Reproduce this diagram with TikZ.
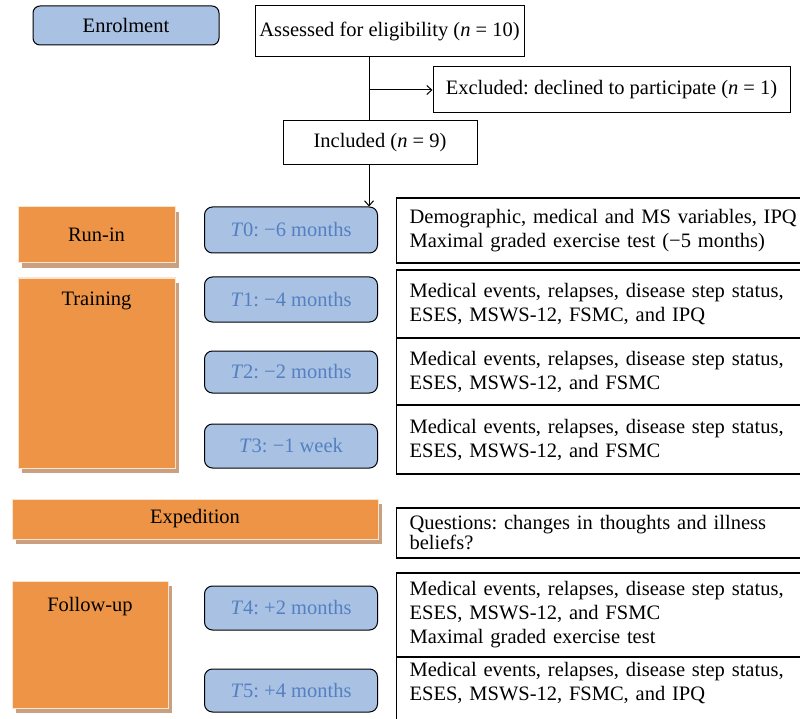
\documentclass[tikz,border=0pt]{standalone}
\usepackage{fontspec}
\setmainfont{Liberation Serif}
\usepackage{xcolor}
\usetikzlibrary{arrows.meta,calc,positioning,shadows}
\definecolor{tblue}{RGB}{169,194,228}
\definecolor{ttext}{RGB}{84,127,192}
\definecolor{phaseorange}{RGB}{237,148,71}
\definecolor{phaseedge}{RGB}{250,228,208}
\definecolor{phaseshade}{RGB}{201,161,128}
\frenchspacing

\begin{document}
\begin{tikzpicture}[x=1pt,y=-1pt,font=\fontsize{20.5}{24}\selectfont,
  flowbox/.style={draw,line width=1pt,inner sep=0pt},
  tbox/.style={draw,line width=1pt,rounded corners=8pt,fill=tblue,text=ttext,minimum width=173pt,inner sep=0pt},
  phase/.style={fill=phaseorange,draw=phaseedge,line width=1pt,inner sep=0pt,
    drop shadow={shadow xshift=4pt,shadow yshift=-5pt,fill=phaseshade,opacity=1}},
  phaselabel/.style={anchor=north,inner sep=0pt},
  infobox/.style={draw,line width=1.2pt,anchor=west,text width=395pt,align=left,inner xsep=13pt,inner ysep=0pt},
  flow/.style={line width=1pt},
  tip/.style={-{Straight Barb[length=5pt,width=9pt]}}]
\useasboundingbox (0,0) rectangle (800,719);
\clip (0,0) rectangle (800,719);
\fill[white] (0,0) rectangle (800,719);
\node[flowbox,rounded corners=7pt,fill=tblue,minimum width=186pt,minimum height=39pt] (enrol) at (126,25.5) {Enrolment};
\node[flowbox,minimum width=269pt,minimum height=51pt] (assess) at (389.5,31.5) {Assessed for eligibility (\textit{n} = 10)};
\node[flowbox,minimum width=357pt,minimum height=46pt] (excl) at (611.5,90) {Excluded: declined to participate (\textit{n} = 1)};
\node[flowbox,minimum width=194pt,minimum height=44pt] (incl) at (380,143) {Included (\textit{n} = 9)};
\node[phase,minimum width=157pt,minimum height=56pt] (runin) at (96.5,235) {Run-in};
\node[phase,minimum width=157pt,minimum height=190pt,label={[phaselabel,yshift=-14pt]north:Training}] (training) at (96.5,373) {};
\node[phase,minimum width=366pt,minimum height=40pt] (expedition) at (195,519) {Expedition};
\node[phase,minimum width=156pt,minimum height=127pt,label={[phaselabel,yshift=-17pt]north:Follow-up}] (followup) at (90,644.5) {};
\foreach \n/\y/\h/\t in {0/230/46/−6 months,1/299.5/45/−4 months,2/372/42/−2 months,3/446/44/−1 week,4/608/44/+2 months,5/690.5/43/+4 months}{
  \node[tbox,minimum height=\h pt] (t\n) at (291,\y) {\textit{T}\n: \t};
}
\node[infobox,minimum height=65pt] (info0) at (396,230.5) {Demographic, medical and MS variables, IPQ\\Maximal graded exercise test (−5 months)};
\node[infobox,minimum height=68pt] (info1) at (396,304) {Medical events, relapses, disease step status,\\ESES, MSWS-12, FSMC, and IPQ};
\node[infobox,minimum height=67pt] (info2) at (396,371.5) {Medical events, relapses, disease step status,\\ESES, MSWS-12, and FSMC};
\node[infobox,minimum height=69pt] (info3) at (396,439.5) {Medical events, relapses, disease step status,\\ESES, MSWS-12, and FSMC};
\node[infobox,minimum height=50pt,font=\fontsize{20.5}{20}\selectfont] (infoq) at (396,533) {Questions: changes in thoughts and illness\\beliefs?};
\node[infobox,minimum height=84pt] (info4) at (396,615) {Medical events, relapses, disease step status,\\ESES, MSWS-12, and FSMC\\Maximal graded exercise test};
\node[infobox,minimum height=68pt,text depth=44pt] (info5) at (396,691) {Medical events, relapses, disease step status,\\ESES, MSWS-12, FSMC, and IPQ};
\coordinate (spine) at (369,0);
\draw[flow] (assess.south -| spine) -- (incl.north -| spine);
\draw[flow,tip] (spine |- excl.west) -- (excl.west);
\draw[flow,tip] (incl.south -| spine) -- (t0.north -| spine);
\end{tikzpicture}
\end{document}
